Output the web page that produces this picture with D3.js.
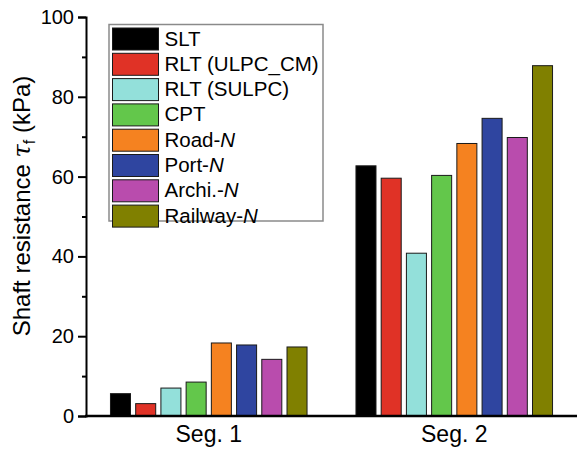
<!DOCTYPE html>
<html>
<head>
<meta charset="utf-8">
<script src="https://cdn.jsdelivr.net/npm/d3@7"></script>
<style>
  html, body { margin: 0; padding: 0; background: #fff; }
  svg { display: block; font-family: Arial, "Liberation Sans", Helvetica, sans-serif; }
</style>
</head>
<body>
<svg id="chart" width="577" height="450"></svg>
<script>
// Shaft resistance per segment, one series per test/method
const segments = ["Seg. 1", "Seg. 2"];
const seriesNames = ["SLT", "RLT (ULPC_CM)", "RLT (SULPC)", "CPT", "Road-N", "Port-N", "Archi.-N", "Railway-N"];
const seg1Values = [5.6, 3.1, 7.0, 8.5, 18.3, 17.8, 14.2, 17.3];
const seg2Values = [62.7, 59.6, 40.8, 60.3, 68.3, 74.6, 69.8, 87.8];
const seriesColors = ["#000000", "#e03226", "#93e0da", "#63c74b", "#f58220", "#2f45a0", "#b94cad", "#808000"];
const yTicks = [0, 20, 40, 60, 80, 100];
const yMinorTicks = [10, 30, 50, 70, 90];

const svg = d3.select("#chart");
const plotLeft = 86, plotRight = 577, plotTop = 17, plotBottom = 416;

const valuesBySeg = [seg1Values, seg2Values];
const rows = segments.map((s, i) => ({ seg: s, values: valuesBySeg[i] }));

const x0 = d3.scaleBand().domain(segments).range([plotLeft, plotRight]).padding(0);
const x1 = d3.scaleBand().domain(seriesNames).range([0, x0.bandwidth()])
  .paddingInner(0.206).paddingOuter(0.97);
const y = d3.scaleLinear().domain([0, 100]).range([plotBottom, plotTop]);
const color = d3.scaleOrdinal().domain(seriesNames).range(seriesColors);

// bars
const groups = svg.append("g").selectAll("g").data(rows).join("g")
  .attr("transform", d => `translate(${x0(d.seg)},0)`);
groups.selectAll("rect")
  .data(d => d.values.map((v, i) => ({ name: seriesNames[i], value: v })))
  .join("rect")
  .attr("x", d => x1(d.name))
  .attr("y", d => y(d.value))
  .attr("width", x1.bandwidth())
  .attr("height", d => y(0) - y(d.value))
  .attr("fill", d => color(d.name))
  .attr("stroke", "#1a1a1a")
  .attr("stroke-width", 1);

// y axis with major and minor ticks
const yAxis = svg.append("g").attr("transform", `translate(${plotLeft},0)`)
  .call(d3.axisLeft(y).tickValues(yTicks).tickSize(8).tickPadding(4).tickFormat(d3.format("d")));
yAxis.select(".domain").attr("stroke-width", 2);
yAxis.selectAll(".tick line").attr("stroke-width", 2);
yAxis.selectAll(".tick text").attr("font-size", 20).attr("fill", "#000").attr("font-family", "Arial, 'Liberation Sans', sans-serif");

const yMinor = svg.append("g").attr("transform", `translate(${plotLeft},0)`)
  .call(d3.axisLeft(y).tickValues(yMinorTicks).tickSize(4).tickFormat(""));
yMinor.select(".domain").remove();
yMinor.selectAll(".tick line").attr("stroke-width", 2);

// x axis
const xAxis = svg.append("g").attr("transform", `translate(0,${plotBottom})`)
  .call(d3.axisBottom(x0).tickSize(0).tickPadding(10));
xAxis.select(".domain").attr("stroke-width", 2.5).attr("d", `M${plotLeft - 1},0H${plotRight}`);
xAxis.selectAll(".tick text").attr("font-size", 23).attr("fill", "#000").attr("font-family", "Arial, 'Liberation Sans', sans-serif");

// y axis title
const yTitle = svg.append("text")
  .attr("transform", `translate(30,206) rotate(-90)`)
  .attr("text-anchor", "middle")
  .attr("font-size", 24)
  .attr("fill", "#000");
yTitle.append("tspan").text("Shaft resistance ");
yTitle.append("tspan").attr("font-style", "italic").attr("font-family", "'DejaVu Serif', serif").text("τ");
yTitle.append("tspan").attr("font-size", 16).attr("dy", 5).text("f");
yTitle.append("tspan").attr("dy", -5).text(" (kPa)");

// legend
const legend = svg.append("g");
legend.append("rect")
  .attr("x", 109).attr("y", 24.5).attr("width", 214).attr("height", 196.5)
  .attr("fill", "#fff").attr("stroke", "#8a8a8a").attr("stroke-width", 1.5);
const rowH = 25.3;
const items = legend.selectAll("g.item").data(seriesNames).join("g")
  .attr("class", "item")
  .attr("transform", (d, i) => `translate(112.5,${28 + i * rowH})`);
items.append("rect")
  .attr("width", 46).attr("height", 22)
  .attr("fill", d => color(d))
  .attr("stroke", "#1a1a1a").attr("stroke-width", 1);
items.each(function (d) {
  const t = d3.select(this).append("text")
    .attr("x", 52).attr("y", 17.5)
    .attr("font-size", 20.5).attr("fill", "#000");
  if (d.endsWith("-N")) {
    t.append("tspan").text(d.slice(0, -1));
    t.append("tspan").attr("font-style", "italic").text("N");
  } else {
    t.text(d);
  }
});
</script>
</body>
</html>
